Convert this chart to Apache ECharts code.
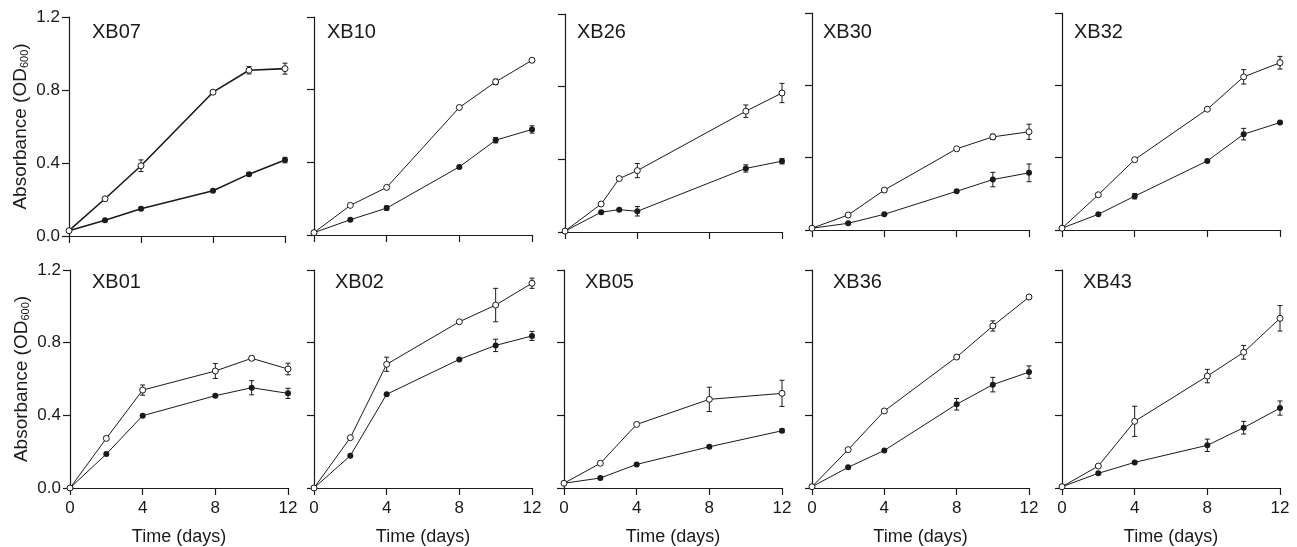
<!DOCTYPE html>
<html>
<head>
<meta charset="utf-8">
<script src="https://cdn.jsdelivr.net/npm/echarts@6/dist/echarts.min.js"></script>
<style>
  html, body { margin: 0; padding: 0; background: #fff; }
  #chart { width: 1297px; height: 547px; }
</style>
</head>
<body>
<div id="chart"></div>
<script>
// growth curves, open = one treatment, filled = the other
const panelNames = ['XB07', 'XB10', 'XB26', 'XB30', 'XB32', 'XB01', 'XB02', 'XB05', 'XB36', 'XB43'];

const d6 = [0, 2, 4, 8, 10, 12];
const panelDays = [d6, d6, [0, 2, 3, 4, 10, 12], d6, d6, d6, d6, [0, 2, 4, 8, 12], d6, d6];

const openMean = [
  [0.029, 0.204, 0.385, 0.788, 0.908, 0.917],
  [0.013, 0.163, 0.262, 0.702, 0.843, 0.962],
  [0.005, 0.154, 0.294, 0.338, 0.665, 0.765],
  [0.010, 0.083, 0.221, 0.449, 0.515, 0.543],
  [0.010, 0.195, 0.389, 0.668, 0.847, 0.925],
  [0.000, 0.273, 0.539, 0.644, 0.714, 0.655],
  [0.000, 0.277, 0.681, 0.915, 1.007, 1.127],
  [0.026, 0.136, 0.350, 0.488, 0.521],
  [0.007, 0.211, 0.424, 0.721, 0.892, 1.051],
  [0.007, 0.121, 0.367, 0.616, 0.747, 0.934]
];
const openErr = [
  [0, 0.006, 0.032, 0.010, 0.020, 0.030],
  [0, 0.005, 0.008, 0.005, 0.015, 0.010],
  [0, 0.005, 0.005, 0.039, 0.034, 0.053],
  [0, 0.005, 0.010, 0.005, 0.015, 0.042],
  [0, 0.010, 0.008, 0.005, 0.040, 0.035],
  [0, 0.008, 0.028, 0.041, 0.012, 0.032],
  [0, 0.005, 0.039, 0.005, 0.092, 0.028],
  [0, 0.005, 0.005, 0.067, 0.072],
  [0, 0.005, 0.005, 0.005, 0.028, 0.005],
  [0, 0.005, 0.083, 0.037, 0.038, 0.070]
];
const filledMean = [
  [0.029, 0.086, 0.149, 0.248, 0.339, 0.416],
  [0.013, 0.084, 0.148, 0.375, 0.522, 0.581],
  [0.005, 0.109, 0.123, 0.114, 0.350, 0.390],
  [0.010, 0.037, 0.087, 0.214, 0.279, 0.316],
  [0.010, 0.087, 0.187, 0.382, 0.530, 0.594],
  [0.000, 0.187, 0.398, 0.508, 0.552, 0.521],
  [0.000, 0.178, 0.516, 0.708, 0.785, 0.837],
  [0.026, 0.055, 0.130, 0.227, 0.315],
  [0.007, 0.114, 0.207, 0.461, 0.569, 0.638],
  [0.007, 0.081, 0.141, 0.235, 0.332, 0.440]
];
const filledErr = [
  [0, 0.005, 0.008, 0.005, 0.008, 0.015],
  [0, 0.005, 0.012, 0.005, 0.015, 0.020],
  [0, 0.005, 0.005, 0.026, 0.020, 0.015],
  [0, 0.005, 0.005, 0.005, 0.040, 0.049],
  [0, 0.005, 0.015, 0.005, 0.032, 0.005],
  [0, 0.005, 0.005, 0.005, 0.039, 0.028],
  [0, 0.005, 0.005, 0.005, 0.034, 0.025],
  [0, 0.005, 0.005, 0.005, 0.010],
  [0, 0.005, 0.005, 0.032, 0.040, 0.034],
  [0, 0.005, 0.005, 0.034, 0.035, 0.039]
];

const xTicks = [0, 4, 8, 12];
const yTicks = [0, 0.4, 0.8, 1.2];

// panel boxes (px)
const gridLeft = [69, 314, 565, 812, 1062, 70, 314, 564, 812, 1062];
const gridWidth = [216, 218, 217, 217, 218, 218, 218, 218, 217, 218];
const gridTop = [17, 17, 14, 13, 13, 270, 270, 270, 270, 270];
const gridHeight = [219, 218, 218, 217, 217, 218, 218, 218, 218, 218];
const titleLeft = [92, 327, 577, 823, 1074, 92, 335, 585, 833, 1083];
const titleTop = [22, 272];

const ink = '#1a1a1a';
const font = 'Liberation Sans, Arial, sans-serif';

var grids = [], xAxes = [], yAxes = [], titles = [], series = [];

function errRender(params, api) {
  var x = api.value(0);
  var lo = api.coord([x, api.value(1)]);
  var hi = api.coord([x, api.value(2)]);
  var c = 2.5;
  var st = { stroke: ink, lineWidth: 1 };
  return {
    type: 'group',
    children: [
      { type: 'line', shape: { x1: lo[0], y1: lo[1], x2: hi[0], y2: hi[1] }, style: st },
      { type: 'line', shape: { x1: lo[0] - c, y1: lo[1], x2: lo[0] + c, y2: lo[1] }, style: st },
      { type: 'line', shape: { x1: hi[0] - c, y1: hi[1], x2: hi[0] + c, y2: hi[1] }, style: st }
    ]
  };
}

panelNames.forEach(function (name, i) {
  var row = i < 5 ? 0 : 1;
  var col = i % 5;
  grids.push({ left: gridLeft[i], top: gridTop[i], width: gridWidth[i], height: gridHeight[i] });
  titles.push({
    text: name, left: titleLeft[i], top: titleTop[row], padding: 0,
    textStyle: { fontFamily: font, fontSize: 20, fontWeight: 'normal', color: ink }
  });
  xAxes.push({
    gridIndex: i, type: 'value', min: xTicks[0], max: xTicks[xTicks.length - 1], interval: 4,
    axisLine: { onZero: false, lineStyle: { color: ink, width: 1.2 } },
    axisTick: { length: 7, lineStyle: { color: ink, width: 1.2 } },
    splitLine: { show: false },
    axisLabel: { show: row === 1, margin: 12, fontFamily: font, fontSize: 17, color: ink },
    name: row === 1 ? 'Time (days)' : '',
    nameLocation: 'middle', nameGap: 40,
    nameTextStyle: { fontFamily: font, fontSize: 18, color: ink }
  });
  yAxes.push({
    gridIndex: i, type: 'value', min: yTicks[0], max: yTicks[yTicks.length - 1], interval: 0.4,
    axisLine: { show: true, lineStyle: { color: ink, width: 1.2 } },
    axisTick: { show: true, length: 7, lineStyle: { color: ink, width: 1.2 } },
    splitLine: { show: false },
    axisLabel: {
      show: col === 0, margin: 9, fontFamily: font, fontSize: 17, color: ink,
      formatter: function (v) { return v.toFixed(1); }
    },
    name: col === 0 ? 'Absorbance (OD{sub|600})' : '',
    nameLocation: 'middle', nameGap: 39, nameRotate: 90,
    nameTextStyle: {
      fontFamily: font, fontSize: 19, color: ink, verticalAlign: 'bottom',
      rich: { sub: { fontFamily: font, fontSize: 11, color: ink, verticalAlign: 'bottom', padding: [6, 0, 0, 0] } }
    }
  });

  var days = panelDays[i];
  var lw = i === 0 ? 1.6 : 1;
  var groups = [
    { mean: filledMean[i], err: filledErr[i], open: false },
    { mean: openMean[i], err: openErr[i], open: true }
  ];
  groups.forEach(function (g) {
    var bars = [];
    days.forEach(function (d, k) {
      if (g.err[k] > 0) bars.push([d, g.mean[k] - g.err[k], g.mean[k] + g.err[k]]);
    });
    series.push({
      type: 'custom', xAxisIndex: i, yAxisIndex: i, renderItem: errRender,
      data: bars, z: 2, silent: true
    });
    series.push({
      type: 'line', xAxisIndex: i, yAxisIndex: i, z: 3,
      data: days.map(function (d, k) { return [d, g.mean[k]]; }),
      symbol: 'circle', symbolSize: 6,
      lineStyle: { color: ink, width: lw },
      itemStyle: g.open ? { color: '#fff', borderColor: ink, borderWidth: 1 } : { color: ink, borderWidth: 0 },
      animation: false, clip: false
    });
  });
});

var chart = echarts.init(document.getElementById('chart'), null, { renderer: 'canvas' });
chart.setOption({
  backgroundColor: '#fff',
  animation: false,
  title: titles,
  grid: grids,
  xAxis: xAxes,
  yAxis: yAxes,
  series: series
});
</script>
</body>
</html>
